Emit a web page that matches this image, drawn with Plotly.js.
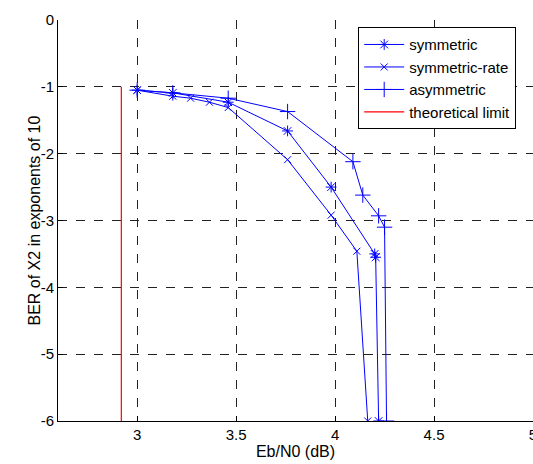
<!DOCTYPE html>
<html><head><meta charset="utf-8">
<script src="https://cdn.plot.ly/plotly-3.0.1.min.js"></script>
<style>html,body{margin:0;padding:0;background:#fff}#c{width:533px;height:464px}</style>
</head><body><div id="c"></div>
<script>
var symX = [3.0, 3.18, 3.46, 3.76, 3.98, 4.20, 4.205, 4.22];
var symY = [-1.05, -1.09, -1.23, -1.66, -2.50, -3.50, -3.55, -6];
var rateX = [3.0, 3.18, 3.27, 3.365, 3.46, 3.76, 3.98, 4.11, 4.165];
var rateY = [-1.05, -1.14, -1.17, -1.23, -1.31, -2.09, -2.92, -3.46, -6];
var asymX = [3.0, 3.18, 3.46, 3.76, 4.09, 4.14, 4.22, 4.25, 4.26];
var asymY = [-1.05, -1.09, -1.17, -1.37, -2.12, -2.62, -2.93, -3.10, -6];
var limX = [2.92, 2.92];
var limY = [-1, -6];
var xTicks = [3, 3.5, 4, 4.5, 5];
var xTickText = ['3', '3.5', '4', '4.5', '5'];
var yTicks = [0, -1, -2, -3, -4, -5, -6];
var yTickText = ['0', '-1', '-2', '-3', '-4', '-5', '-6'];

var blue = '#0000ff';
function tr(x, y, name, sym, sz) {
  return {x: x, y: y, name: name, type: 'scatter', mode: 'lines+markers',
    line: {color: blue, width: 1},
    marker: {symbol: sym, size: sz, color: blue, line: {color: blue, width: 1}}};
}
var data = [
  tr(symX, symY, 'symmetric', 'asterisk-open', 9),
  tr(rateX, rateY, 'symmetric-rate', 'x-thin-open', 7),
  tr(asymX, asymY, 'asymmetric', 'cross-thin-open', 11),
  {x: limX, y: limY, name: 'theoretical limit', type: 'scatter', mode: 'lines',
   line: {color: '#ff0000', width: 1.2}}
];
var tickFont = {family: 'Liberation Sans, Arial, sans-serif', size: 15, color: '#000'};
var titleFont = {family: 'Liberation Sans, Arial, sans-serif', size: 16, color: '#000'};
var layout = {
  width: 533, height: 464,
  margin: {l: 58, r: 0, t: 20, b: 43},
  paper_bgcolor: '#fff', plot_bgcolor: '#fff',
  font: tickFont,
  showlegend: true,
  legend: {x: 0.632, y: 0.982, xanchor: 'left', yanchor: 'top',
    bordercolor: '#000', borderwidth: 1, bgcolor: '#fff',
    font: {family: 'Liberation Sans, Arial, sans-serif', size: 15, color: '#000'},
    tracegroupgap: 0, itemwidth: 40},
  xaxis: {range: [2.6, 5], tickvals: xTicks, ticktext: xTickText,
    ticklabeloverflow: 'allow', tickfont: tickFont,
    showgrid: true, gridcolor: '#222', griddash: 'dash', gridwidth: 1,
    zeroline: false, showline: true, linecolor: '#000', linewidth: 1,
    ticks: 'inside', ticklen: 5, tickcolor: '#000',
    title: {text: 'Eb/N0 (dB)', font: titleFont, standoff: 2}},
  yaxis: {range: [-6, 0], tickvals: yTicks, ticktext: yTickText, tickfont: tickFont,
    showgrid: true, gridcolor: '#222', griddash: 'dash', gridwidth: 1,
    zeroline: false, showline: true, linecolor: '#000', linewidth: 1,
    ticks: 'inside', ticklen: 5, tickcolor: '#000'},
  annotations: [{text: 'BER of X2 in exponents of 10', xref: 'paper', yref: 'paper',
    x: -0.0505, y: 0.5, xanchor: 'center', yanchor: 'middle', textangle: -90,
    showarrow: false, font: titleFont}]
};
Plotly.newPlot('c', data, layout, {displayModeBar: false});
</script></body></html>
